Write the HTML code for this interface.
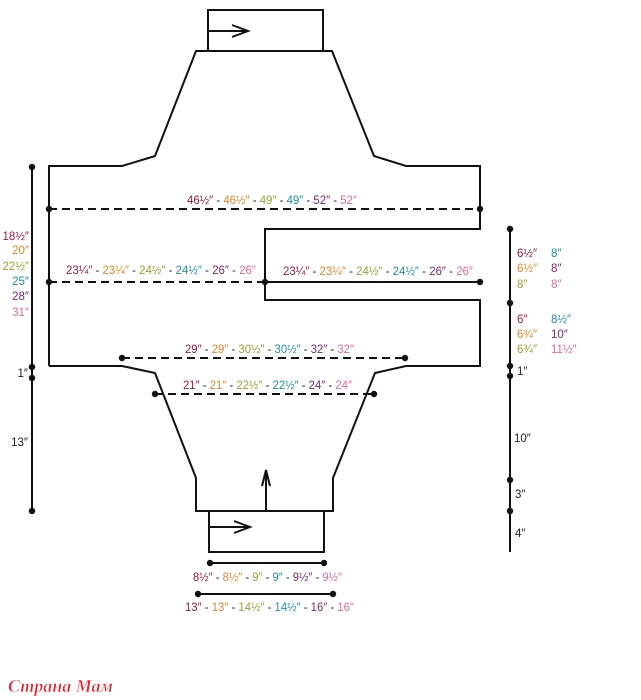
<!DOCTYPE html>
<html><head><meta charset="utf-8"><style>
html,body{margin:0;padding:0;background:#fff;}
svg{display:block;}
text{font-family:"Liberation Sans",sans-serif;font-size:11.5px;}
.r{fill:#9b1b3a}.o{fill:#e0862a}.g{fill:#9aa03a}.t{fill:#1f8fa8}.p{fill:#7a2a6e}.k{fill:#e06a9a}.b{fill:#222}
</style></head><body>
<svg width="641" height="700" viewBox="0 0 641 700" xmlns="http://www.w3.org/2000/svg">
<g fill="none" stroke="#111" stroke-width="2">
<rect x="208" y="10" width="115" height="41"/>
<polyline points="49,366 49,166 122,166 155,156 196,51 332,51 374,156 406,166 480,166 480,229 265,229 265,300 480,300 480,366 406,366 375,373 333,478 333,511 196,511 196,478 155,373 122,366 49,366"/>
<rect x="209" y="511" width="115" height="41"/>
<line x1="208" y1="31" x2="248" y2="31"/><polyline points="232,25 248,31 232,37"/>
<line x1="209" y1="527" x2="250" y2="527"/><polyline points="234,521 250,527 234,533"/>
<line x1="266" y1="511" x2="266" y2="470"/><polyline points="262,486 266,470 270,486"/>
<line x1="265" y1="282" x2="480" y2="282"/>
<line x1="32" y1="167" x2="32" y2="511"/>
<line x1="510" y1="229" x2="510" y2="552"/>
<line x1="209" y1="563" x2="324" y2="563"/>
<line x1="198" y1="594" x2="333" y2="594"/>
<g stroke-dasharray="8,5">
<line x1="49" y1="209" x2="480" y2="209"/>
<line x1="49" y1="282" x2="265" y2="282"/>
<line x1="122" y1="358" x2="405" y2="358"/>
<line x1="155" y1="394" x2="374" y2="394"/>
</g>
</g>
<g fill="#111">
<circle cx="49" cy="209" r="3.2"/><circle cx="480" cy="209" r="3.2"/>
<circle cx="49" cy="282" r="3.2"/><circle cx="265" cy="282" r="3.2"/><circle cx="480" cy="282" r="3.2"/>
<circle cx="122" cy="358" r="3.2"/><circle cx="405" cy="358" r="3.2"/>
<circle cx="155" cy="394" r="3.2"/><circle cx="374" cy="394" r="3.2"/>
<circle cx="32" cy="167" r="3.2"/><circle cx="32" cy="367" r="3.2"/><circle cx="32" cy="378" r="3.2"/><circle cx="32" cy="511" r="3.2"/>
<circle cx="510" cy="229" r="3.2"/><circle cx="510" cy="303" r="3.2"/><circle cx="510" cy="366" r="3.2"/><circle cx="510" cy="376" r="3.2"/><circle cx="510" cy="480" r="3.2"/><circle cx="510" cy="511" r="3.2"/>
<circle cx="210" cy="563" r="3.2"/><circle cx="324" cy="563" r="3.2"/>
<circle cx="198" cy="594" r="3.2"/><circle cx="333" cy="594" r="3.2"/>
</g>
<text x="187" y="204" textLength="170" lengthAdjust="spacingAndGlyphs"><tspan class="r">46½″</tspan><tspan class="b"> - </tspan><tspan class="o">46½″</tspan><tspan class="b"> - </tspan><tspan class="g">49″</tspan><tspan class="b"> - </tspan><tspan class="t">49″</tspan><tspan class="b"> - </tspan><tspan class="p">52″</tspan><tspan class="b"> - </tspan><tspan class="k">52″</tspan></text>
<text x="66" y="274" textLength="190" lengthAdjust="spacingAndGlyphs"><tspan class="r">23¼″</tspan><tspan class="b"> - </tspan><tspan class="o">23¼″</tspan><tspan class="b"> - </tspan><tspan class="g">24½″</tspan><tspan class="b"> - </tspan><tspan class="t">24½″</tspan><tspan class="b"> - </tspan><tspan class="p">26″</tspan><tspan class="b"> - </tspan><tspan class="k">26″</tspan></text>
<text x="283" y="275" textLength="190" lengthAdjust="spacingAndGlyphs"><tspan class="r">23¼″</tspan><tspan class="b"> - </tspan><tspan class="o">23¼″</tspan><tspan class="b"> - </tspan><tspan class="g">24½″</tspan><tspan class="b"> - </tspan><tspan class="t">24½″</tspan><tspan class="b"> - </tspan><tspan class="p">26″</tspan><tspan class="b"> - </tspan><tspan class="k">26″</tspan></text>
<text x="185" y="353" textLength="169" lengthAdjust="spacingAndGlyphs"><tspan class="r">29″</tspan><tspan class="b"> - </tspan><tspan class="o">29″</tspan><tspan class="b"> - </tspan><tspan class="g">30½″</tspan><tspan class="b"> - </tspan><tspan class="t">30½″</tspan><tspan class="b"> - </tspan><tspan class="p">32″</tspan><tspan class="b"> - </tspan><tspan class="k">32″</tspan></text>
<text x="183" y="389" textLength="169" lengthAdjust="spacingAndGlyphs"><tspan class="r">21″</tspan><tspan class="b"> - </tspan><tspan class="o">21″</tspan><tspan class="b"> - </tspan><tspan class="g">22½″</tspan><tspan class="b"> - </tspan><tspan class="t">22½″</tspan><tspan class="b"> - </tspan><tspan class="p">24″</tspan><tspan class="b"> - </tspan><tspan class="k">24″</tspan></text>
<text x="193" y="581" textLength="149" lengthAdjust="spacingAndGlyphs"><tspan class="r">8½″</tspan><tspan class="b"> - </tspan><tspan class="o">8½″</tspan><tspan class="b"> - </tspan><tspan class="g">9″</tspan><tspan class="b"> - </tspan><tspan class="t">9″</tspan><tspan class="b"> - </tspan><tspan class="p">9½″</tspan><tspan class="b"> - </tspan><tspan class="k">9½″</tspan></text>
<text x="185" y="611" textLength="169" lengthAdjust="spacingAndGlyphs"><tspan class="r">13″</tspan><tspan class="b"> - </tspan><tspan class="o">13″</tspan><tspan class="b"> - </tspan><tspan class="g">14½″</tspan><tspan class="b"> - </tspan><tspan class="t">14½″</tspan><tspan class="b"> - </tspan><tspan class="p">16″</tspan><tspan class="b"> - </tspan><tspan class="k">16″</tspan></text>
<g text-anchor="end">
<text x="29" y="240" class="r">18½″</text>
<text x="29" y="254" class="o">20″</text>
<text x="29" y="270" class="g">22½″</text>
<text x="29" y="285" class="t">25″</text>
<text x="29" y="300" class="p">28″</text>
<text x="29" y="316" class="k">31″</text>
<text x="28" y="377" class="b">1″</text>
<text x="28" y="446" class="b">13″</text>
</g>
<text x="517" y="257" class="r">6½″</text><text x="551" y="257" class="t">8″</text>
<text x="517" y="272" class="o">6½″</text><text x="551" y="272" class="p">8″</text>
<text x="517" y="288" class="g">8″</text><text x="551" y="288" class="k">8″</text>
<text x="517" y="323" class="r">6″</text><text x="551" y="323" class="t">8½″</text>
<text x="517" y="338" class="o">6¾″</text><text x="551" y="338" class="p">10″</text>
<text x="517" y="353" class="g">6¾″</text><text x="551" y="353" class="k">11½″</text>
<text x="517" y="375" class="b">1″</text>
<text x="514" y="442" class="b">10″</text>
<text x="515" y="498" class="b">3″</text>
<text x="515" y="537" class="b">4″</text>
<text x="8" y="692" style="font-family:'Liberation Serif',serif;font-style:italic;font-weight:bold;font-size:18px;fill:#e0202a;stroke:#fff;stroke-width:0.5">Страна Мам</text>
</svg>
</body></html>
